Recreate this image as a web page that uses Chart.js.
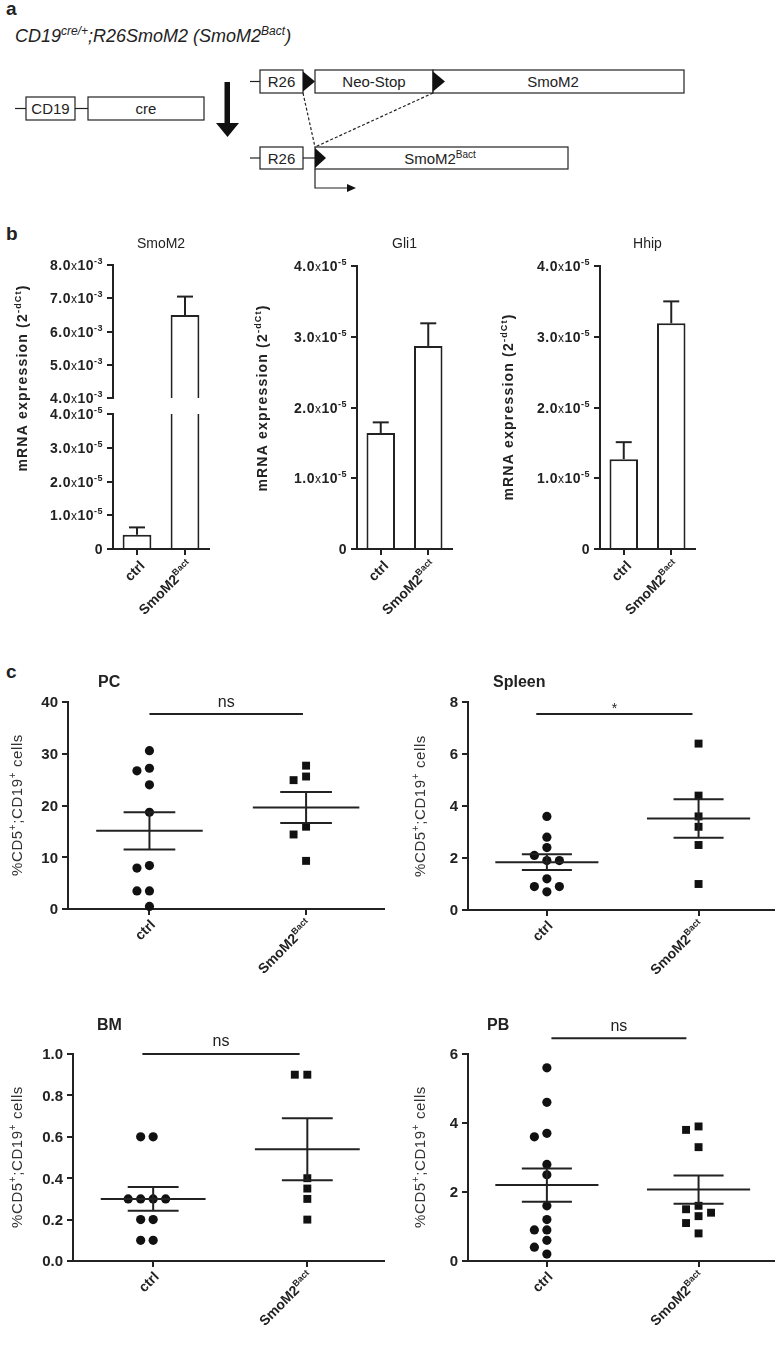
<!DOCTYPE html>
<html>
<head>
<meta charset="utf-8">
<script src="https://cdn.jsdelivr.net/npm/chart.js@4.4.1/dist/chart.umd.min.js"></script>
<style>
    html, body { margin: 0; padding: 0; background: #fff; }
    #page { position: relative; width: 780px; height: 1349px; overflow: hidden; }
    #page canvas { position: absolute; }
</style>
</head>
<body>
<div id="page">
<svg width="780" height="1349" style="position:absolute;left:0;top:0" font-family="'Liberation Sans', Arial, sans-serif" fill="#222">
    <text x="6" y="15" font-size="19" font-weight="bold">a</text>
    <text x="15" y="42" font-size="18" font-style="italic">CD19<tspan dy="-7" font-size="12">cre/+</tspan><tspan dy="7">;R26SmoM2 (SmoM2</tspan><tspan dy="-7" font-size="12">Bact</tspan><tspan dy="7">)</tspan></text>
    <g stroke="#222" stroke-width="1.2" fill="#fff">
        <line x1="15" y1="108.5" x2="26" y2="108.5"/>
        <rect x="26" y="97" width="49" height="23"/>
        <line x1="75" y1="108.5" x2="88" y2="108.5"/>
        <rect x="88" y="97" width="116" height="23"/>
        <line x1="250" y1="81.5" x2="260" y2="81.5"/>
        <rect x="260" y="70" width="43" height="23"/>
        <rect x="315" y="70" width="118" height="23"/>
        <rect x="433" y="70" width="251" height="23"/>
        <line x1="250" y1="158" x2="260" y2="158"/>
        <rect x="260" y="147" width="43" height="22"/>
        <line x1="303" y1="158" x2="315" y2="158"/>
        <rect x="315" y="147" width="253" height="22"/>
        <line x1="303" y1="93" x2="315" y2="147" stroke-dasharray="3,2"/>
        <line x1="433" y1="93" x2="315" y2="147" stroke-dasharray="3,2"/>
        <polyline points="315,169 315,188 350,188" fill="none"/>
    </g>
    <g fill="#111">
        <rect x="224.5" y="82" width="5.5" height="42"/>
        <polygon points="216,123 239,123 227.5,137"/>
        <polygon points="303,71.5 315,81.5 303,91.5"/>
        <polygon points="433,71.5 445,81.5 433,91.5"/>
        <polygon points="315,148 326,158 315,168"/>
        <polygon points="347,184 356,188 347,192"/>
    </g>
    <g font-size="15" text-anchor="middle">
        <text x="50.5" y="114">CD19</text>
        <text x="146" y="114">cre</text>
        <text x="281.5" y="87">R26</text>
        <text x="374" y="87">Neo-Stop</text>
        <text x="553" y="87">SmoM2</text>
        <text x="281.5" y="163.5">R26</text>
        <text x="440" y="163.5">SmoM2<tspan dy="-6" font-size="10">Bact</tspan></text>
    </g>
    <text x="6" y="240" font-size="19" font-weight="bold">b</text>
    <text x="6" y="678" font-size="19" font-weight="bold">c</text>
</svg>
</div>

<script>
var groups = ["ctrl", "SmoM2Bact"];

// b - mRNA expression (2^-dCt): bar height and upper error
var smoM2Values = [0.42e-5, 6.5e-3];
var smoM2Errors = [0.22e-5, 0.55e-3];
var gli1Values = [1.64e-5, 2.87e-5];
var gli1Errors = [0.15e-5, 0.32e-5];
var hhipValues = [1.27e-5, 3.19e-5];
var hhipErrors = [0.24e-5, 0.31e-5];
var smoM2HighTicks = [4.0e-3, 5.0e-3, 6.0e-3, 7.0e-3, 8.0e-3];
var lowTicks = [0, 1.0e-5, 2.0e-5, 3.0e-5, 4.0e-5];

// c - %CD5+;CD19+ cells, one value per mouse, mean and SEM per group
var pcCtrl = [30.6, 27.2, 26.7, 24.0, 18.7, 8.4, 7.9, 3.5, 3.5, 0.5];
var pcSmo = [27.7, 25.6, 24.9, 15.9, 14.4, 9.3];
var pcMean = [15.1, 19.6];
var pcSem = [3.6, 3.0];
var pcTicks = [0, 10, 20, 30, 40];

var spleenCtrl = [3.6, 2.8, 2.4, 2.1, 1.9, 1.9, 1.2, 0.9, 0.9, 0.7];
var spleenSmo = [6.4, 4.4, 3.6, 3.2, 2.5, 1.0];
var spleenMean = [1.84, 3.52];
var spleenSem = [0.3, 0.74];
var spleenTicks = [0, 2, 4, 6, 8];

var bmCtrl = [0.6, 0.6, 0.3, 0.3, 0.3, 0.3, 0.2, 0.2, 0.1, 0.1];
var bmSmo = [0.9, 0.9, 0.4, 0.35, 0.3, 0.2];
var bmMean = [0.30, 0.54];
var bmSem = [0.057, 0.15];
var bmTicks = [0, 0.2, 0.4, 0.6, 0.8, 1.0];

var pbCtrl = [5.6, 4.6, 3.7, 3.6, 2.8, 2.5, 1.6, 1.2, 0.9, 0.9, 0.6, 0.4, 0.2];
var pbSmo = [3.9, 3.8, 3.3, 1.6, 1.5, 1.4, 1.3, 1.1, 0.8];
var pbMean = [2.2, 2.07];
var pbSem = [0.48, 0.41];
var pbTicks = [0, 2, 4, 6];

// significance bars: level on the y scale and label
var sigLevels = [37.7, 7.54, 1.0, 6.46];
var sigLabels = ["ns", "*", "ns", "ns"];


var INK = "#222";
var FONT = '"Liberation Sans", Arial, sans-serif';
var TICK = 6;
var exprTitle = [["mRNA expression (2", "n"], ["-dCt", "s"], [")", "n"]];
var cellTitle = [["%CD5", "n"], ["+", "s"], [";CD19", "n"], ["+", "s"], [" cells", "n"]];

function labelParts(s) {
    var i = s.indexOf("Bact");
    return i < 0 ? [[s, "n"]] : [[s.slice(0, i), "n"], ["Bact", "s"]];
}

function sciParts(v) {
    if (v === 0) return [["0", "n"]];
    var e = Math.floor(Math.log10(v) + 1e-9);
    return [[(v / Math.pow(10, e)).toFixed(1), "n"], ["x", "x"], ["10", "n"], ["-" + (-e), "s"]];
}

// text made of normal / superscript / small pieces, optionally rotated
function drawParts(ctx, parts, x, y, o) {
    ctx.save();
    ctx.translate(x, y);
    if (o.rot) ctx.rotate(o.rot);
    ctx.fillStyle = o.color || INK;
    ctx.textAlign = "left";
    ctx.textBaseline = "alphabetic";
    ctx.letterSpacing = (o.spacing || 0) + "px";
    var fonts = [], widths = [], total = 0;
    parts.forEach(function (p) {
        var size = p[1] === "s" ? Math.round(o.size * 0.65) : p[1] === "x" ? Math.round(o.size * 0.85) : o.size;
        var weight = p[1] === "x" ? "normal" : (o.weight || "normal");
        ctx.font = weight + " " + size + "px " + FONT;
        var w = ctx.measureText(p[0]).width;
        fonts.push(ctx.font);
        widths.push(w);
        total += w;
    });
    var cx = o.align === "right" ? -total : o.align === "center" ? -total / 2 : 0;
    var base = o.middle ? o.size * 0.36 : 0;
    parts.forEach(function (p, i) {
        ctx.font = fonts[i];
        ctx.fillText(p[0], cx, base - (p[1] === "s" ? o.size * 0.42 : 0));
        cx += widths[i];
    });
    ctx.restore();
}

function line(ctx, x1, y1, x2, y2) {
    ctx.beginPath();
    ctx.moveTo(x1, y1);
    ctx.lineTo(x2, y2);
    ctx.stroke();
}

// spread points of equal height sideways (column scatter)
function spreadPoints(chart) {
    chart.data.datasets.forEach(function (ds, di) {
        var pts = chart.getDatasetMeta(di).data.slice().sort(function (p, q) { return p.y - q.y; });
        var placed = [];
        pts.forEach(function (p) {
            var slots = [0, -1, 1, -2, 2, -3, 3], s = 0;
            for (var k = 0; k < slots.length; k++) {
                s = slots[k];
                var hit = placed.some(function (q) { return q.s === s && Math.abs(q.y - p.y) < 9.5; });
                if (!hit) break;
            }
            placed.push({ s: s, y: p.y });
            p.x += s * 12.5;
        });
    });
}

function figPlugin(o) {
    return {
        id: "fig",
        afterDatasetsUpdate: function (chart) {
            if (o.swarm) spreadPoints(chart);
        },
        afterDraw: function (chart) {
            var ctx = chart.ctx, a = chart.chartArea, xs = chart.scales.x, ys = chart.scales.y;
            ctx.save();
            ctx.strokeStyle = INK;
            ctx.lineWidth = 2;

            ys.ticks.forEach(function (t) {
                drawParts(ctx, o.yFormat(t.value), a.left - 10, ys.getPixelForValue(t.value),
                    { size: o.tickSize, weight: "bold", align: "right", middle: true, spacing: o.tickSpacing });
            });

            if (o.errors) {
                chart.getDatasetMeta(0).data.forEach(function (bar, i) {
                    var y0 = ys.getPixelForValue(o.values[i]);
                    var y1 = ys.getPixelForValue(o.values[i] + o.errors[i]);
                    if (y0 > a.bottom + 1 || y0 < a.top - 1 || y1 < a.top - 1) return;
                    line(ctx, bar.x, y0, bar.x, y1);
                    line(ctx, bar.x - 8, y1, bar.x + 8, y1);
                });
            }

            if (o.mean) {
                o.mean.forEach(function (m, i) {
                    var c = i + 1;
                    var ym = ys.getPixelForValue(m);
                    var yh = ys.getPixelForValue(m + o.sem[i]);
                    var yl = ys.getPixelForValue(m - o.sem[i]);
                    line(ctx, xs.getPixelForValue(c - 0.34), ym, xs.getPixelForValue(c + 0.34), ym);
                    line(ctx, xs.getPixelForValue(c - 0.165), yh, xs.getPixelForValue(c + 0.165), yh);
                    line(ctx, xs.getPixelForValue(c - 0.165), yl, xs.getPixelForValue(c + 0.165), yl);
                    line(ctx, xs.getPixelForValue(c), yh, xs.getPixelForValue(c), yl);
                });
            }

            if (o.sig) {
                var ysig = ys.getPixelForValue(o.sig.value);
                var x1 = xs.getPixelForValue(o.sig.from), x2 = xs.getPixelForValue(o.sig.to);
                line(ctx, x1, ysig, x2, ysig);
                drawParts(ctx, [[o.sig.text, "n"]], (x1 + x2) / 2, ysig - o.sig.dy, { size: o.sig.size, align: "center" });
            }

            if (o.xLabels) {
                groups.forEach(function (g, i) {
                    drawParts(ctx, labelParts(g), xs.getPixelForTick(i) + o.xLabels.dx, a.bottom + o.xLabels.dy,
                        { size: o.xLabels.size, weight: "bold", align: "right", middle: true, rot: -Math.PI / 4 });
                });
            }

            if (o.title) drawParts(ctx, o.title.parts, o.title.x - o.box.x, o.title.y - o.box.y, o.title);
            if (o.yTitle) {
                var yt = Object.assign({ rot: -Math.PI / 2, align: "center", middle: true }, o.yTitle);
                drawParts(ctx, o.yTitle.parts, o.yTitle.x - o.box.x, o.yTitle.y - o.box.y, yt);
            }
            ctx.restore();
        }
    };
}

function addCanvas(box) {
    var cv = document.createElement("canvas");
    cv.width = box.w;
    cv.height = box.h;
    cv.style.left = box.x + "px";
    cv.style.top = box.y + "px";
    document.getElementById("page").appendChild(cv);
    return cv;
}

function padFor(box, area, xh) {
    return {
        left: area.l - box.x - TICK,
        top: area.t - box.y,
        right: box.x + box.w - area.r,
        bottom: box.y + box.h - area.b - xh
    };
}

function axisY(min, max, ticks) {
    return {
        type: "linear", min: min, max: max,
        afterBuildTicks: function (s) { s.ticks = ticks.map(function (v) { return { value: v }; }); },
        afterFit: function (s) { s.width = TICK; },
        ticks: { display: false },
        grid: { drawOnChartArea: false, tickLength: TICK, color: INK, lineWidth: 2 },
        border: { color: INK, width: 2 }
    };
}

function barChart(o) {
    var hasX = o.showX !== false;
    var xAxis = {
        type: "category", offset: true, display: hasX,
        ticks: { display: false },
        grid: { offset: false, drawOnChartArea: false, tickLength: TICK, color: INK, lineWidth: 2 },
        border: { color: INK, width: 2 }
    };
    if (hasX) xAxis.afterFit = function (s) { s.height = TICK; };
    return new Chart(addCanvas(o.box), {
        type: "bar",
        data: {
            labels: groups,
            datasets: [{
                data: o.values,
                backgroundColor: "#fff",
                borderColor: INK,
                borderWidth: 2,
                barPercentage: 0.6,
                categoryPercentage: 1,
                clip: { left: 4, right: 4, top: 0, bottom: 0 }
            }]
        },
        options: {
            responsive: false, animation: false, events: [],
            layout: { padding: padFor(o.box, o.area, hasX ? TICK : 0) },
            plugins: { legend: { display: false }, tooltip: { enabled: false } },
            scales: { x: xAxis, y: axisY(o.min, o.max, o.ticks) }
        },
        plugins: [figPlugin(o)]
    });
}

function dotChart(o) {
    return new Chart(addCanvas(o.box), {
        type: "scatter",
        data: {
            datasets: [{
                data: o.ctrl.map(function (v) { return { x: 1, y: v }; }),
                pointStyle: "circle", pointRadius: 4.6,
                pointBackgroundColor: "#111", pointBorderColor: "#111", pointBorderWidth: 0,
                clip: false
            }, {
                data: o.smo.map(function (v) { return { x: 2, y: v }; }),
                pointStyle: "rect", pointRadius: 5.6,
                pointBackgroundColor: "#111", pointBorderColor: "#111", pointBorderWidth: 0,
                clip: false
            }]
        },
        options: {
            responsive: false, animation: false, events: [],
            layout: { padding: padFor(o.box, o.area, TICK) },
            plugins: { legend: { display: false }, tooltip: { enabled: false } },
            scales: {
                x: {
                    type: "linear", min: 0.48, max: 2.5,
                    afterBuildTicks: function (s) { s.ticks = [{ value: 1 }, { value: 2 }]; },
                    afterFit: function (s) { s.height = TICK; },
                    ticks: { display: false },
                    grid: { drawOnChartArea: false, tickLength: TICK, color: INK, lineWidth: 2 },
                    border: { color: INK, width: 2 }
                },
                y: axisY(o.min, o.max, o.ticks)
            }
        },
        plugins: [figPlugin(o)]
    });
}

var xLabB = { dx: 5, dy: 14, size: 14 };
var xLabC = { dx: 3, dy: 13, size: 14 };
function fmtInt(v) { return [[String(v), "n"]]; }
function fmtOne(v) { return [[v.toFixed(1), "n"]]; }

try {
    //SmoM2, upper part of the broken axis
    barChart({
        box: { x: 0, y: 230, w: 250, h: 450 }, area: { l: 113, t: 265, r: 209, b: 398 }, showX: false,
        values: smoM2Values, errors: smoM2Errors, min: 4e-3, max: 8e-3, ticks: smoM2HighTicks,
        yFormat: sciParts, tickSize: 14, tickSpacing: 0.5
    });
    //SmoM2, lower part
    barChart({
        box: { x: 0, y: 230, w: 250, h: 450 }, area: { l: 113, t: 414, r: 209, b: 549 },
        values: smoM2Values, errors: smoM2Errors, min: 0, max: 4e-5, ticks: lowTicks,
        yFormat: sciParts, tickSize: 14, tickSpacing: 0.5, xLabels: xLabB,
        title: { parts: [["SmoM2", "n"]], x: 161, y: 248, size: 14, align: "center" },
        yTitle: { parts: exprTitle, x: 22, y: 378, size: 14, weight: "bold", spacing: 1.2 }
    });
    //Gli1
    barChart({
        box: { x: 250, y: 230, w: 245, h: 450 }, area: { l: 357, t: 266, r: 452, b: 549 },
        values: gli1Values, errors: gli1Errors, min: 0, max: 4e-5, ticks: lowTicks,
        yFormat: sciParts, tickSize: 14, tickSpacing: 0.5, xLabels: xLabB,
        title: { parts: [["Gli1", "n"]], x: 404.5, y: 248, size: 14, align: "center" },
        yTitle: { parts: exprTitle, x: 262, y: 398, size: 14, weight: "bold", spacing: 1.2 }
    });
    //Hhip
    barChart({
        box: { x: 495, y: 230, w: 285, h: 450 }, area: { l: 600, t: 266, r: 695, b: 549 },
        values: hhipValues, errors: hhipErrors, min: 0, max: 4e-5, ticks: lowTicks,
        yFormat: sciParts, tickSize: 14, tickSpacing: 0.5, xLabels: xLabB,
        title: { parts: [["Hhip", "n"]], x: 647.5, y: 248, size: 14, align: "center" },
        yTitle: { parts: exprTitle, x: 508, y: 407, size: 14, weight: "bold", spacing: 1.2 }
    });
} catch (error) {
    console.log(error);
}

try {
    //PC
    dotChart({
        box: { x: 0, y: 660, w: 390, h: 350 }, area: { l: 68, t: 702, r: 385, b: 909 },
        ctrl: pcCtrl, smo: pcSmo, mean: pcMean, sem: pcSem, min: 0, max: 40, ticks: pcTicks, swarm: true,
        yFormat: fmtInt, tickSize: 15, xLabels: xLabC,
        sig: { value: sigLevels[0], text: sigLabels[0], from: 1.0, to: 1.98, dy: 7, size: 16 },
        title: { parts: [["PC", "n"]], x: 98, y: 687, size: 16, weight: "bold" },
        yTitle: { parts: cellTitle, x: 17, y: 805, size: 15, spacing: 0.6, color: "#333" }
    });
    //Spleen
    dotChart({
        box: { x: 390, y: 660, w: 390, h: 350 }, area: { l: 468, t: 702, r: 779, b: 910 },
        ctrl: spleenCtrl, smo: spleenSmo, mean: spleenMean, sem: spleenSem, min: 0, max: 8, ticks: spleenTicks, swarm: true,
        yFormat: fmtInt, tickSize: 15, xLabels: xLabC,
        sig: { value: sigLevels[1], text: sigLabels[1], from: 0.93, to: 1.96, dy: 1, size: 14 },
        title: { parts: [["Spleen", "n"]], x: 493, y: 687, size: 16, weight: "bold" },
        yTitle: { parts: cellTitle, x: 420, y: 806, size: 15, spacing: 0.6, color: "#333" }
    });
    //BM
    dotChart({
        box: { x: 0, y: 1010, w: 390, h: 339 }, area: { l: 73, t: 1054, r: 385, b: 1261 },
        ctrl: bmCtrl, smo: bmSmo, mean: bmMean, sem: bmSem, min: 0, max: 1, ticks: bmTicks, swarm: true,
        yFormat: fmtOne, tickSize: 15, xLabels: xLabC,
        sig: { value: sigLevels[2], text: sigLabels[2], from: 0.93, to: 1.95, dy: 8, size: 16 },
        title: { parts: [["BM", "n"]], x: 97, y: 1030, size: 16, weight: "bold" },
        yTitle: { parts: cellTitle, x: 17, y: 1157, size: 15, spacing: 0.6, color: "#333" }
    });
    //PB
    dotChart({
        box: { x: 390, y: 1010, w: 390, h: 339 }, area: { l: 468, t: 1054, r: 779, b: 1261 },
        ctrl: pbCtrl, smo: pbSmo, mean: pbMean, sem: pbSem, min: 0, max: 6, ticks: pbTicks, swarm: true,
        yFormat: fmtInt, tickSize: 15, xLabels: xLabC,
        sig: { value: sigLevels[3], text: sigLabels[3], from: 1.03, to: 1.92, dy: 7, size: 16 },
        title: { parts: [["PB", "n"]], x: 487, y: 1030, size: 16, weight: "bold" },
        yTitle: { parts: cellTitle, x: 420, y: 1157, size: 15, spacing: 0.6, color: "#333" }
    });
} catch (error) {
    console.log(error);
}
</script>
</body>
</html>
